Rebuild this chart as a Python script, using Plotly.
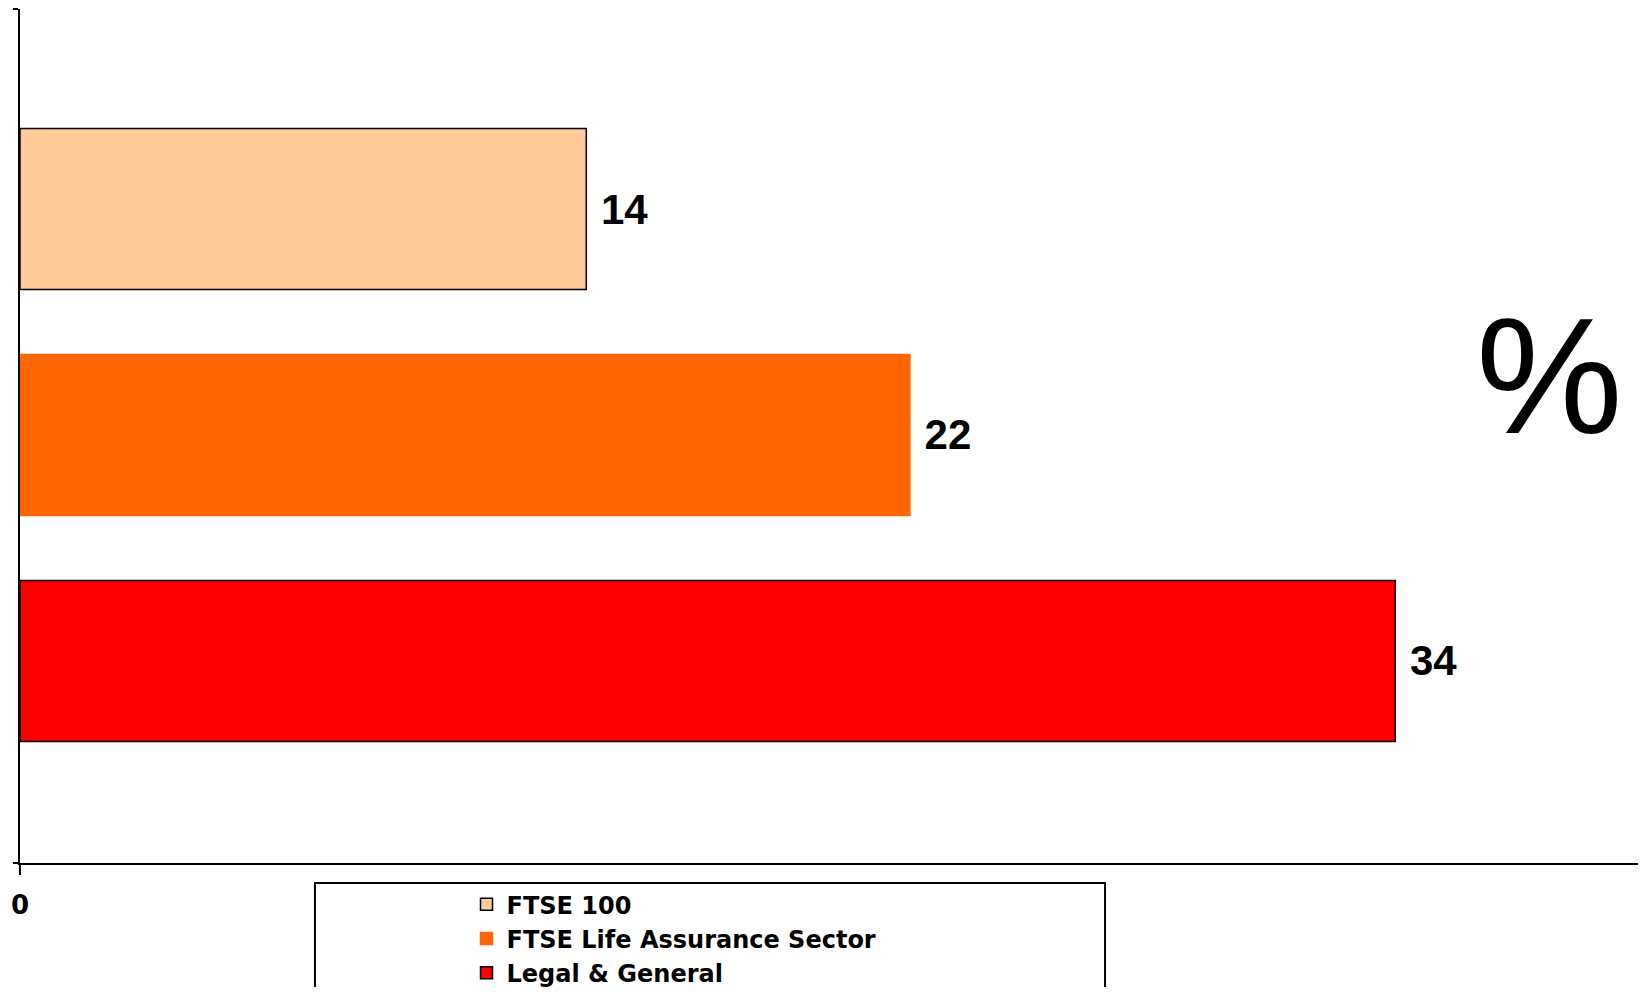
import plotly.graph_objects as go

# Series names, values and colours (top to bottom)
series = ["FTSE 100", "FTSE Life Assurance Sector", "Legal & General"]
values = [14, 22, 34]
colors = ["#FFCC99", "#FF6600", "#FF0000"]
outlines = ["black", "#FF6600", "black"]
positions = [0, 1, 2]

fig = go.Figure()
for name, val, col, edge, pos in zip(series, values, colors, outlines, positions):
    fig.add_trace(go.Bar(
        x=[val], y=[pos], name=name, orientation="h", width=0.712,
        marker=dict(color=col, line=dict(color=edge, width=1.5)),
        text=[val], texttemplate=" %{text}", textposition="outside",
        cliponaxis=False,
        textfont=dict(family="Liberation Sans", size=42, color="black", weight="bold"),
    ))

# the page body has an 8px margin, so the figure is kept a little smaller
fig.update_layout(
    width=1630, height=979,
    margin=dict(l=12, r=0, t=1, b=124, autoexpand=False),
    plot_bgcolor="white", paper_bgcolor="white",
    barmode="overlay",
    showlegend=True,
    legend=dict(
        xref="container", yref="container",
        x=0.2813, y=0.107, xanchor="left", yanchor="top",
        font=dict(family="DejaVu Sans", size=24, color="black", weight="bold"),
        bgcolor="rgba(0,0,0,0)", borderwidth=0, traceorder="normal",
        tracegroupgap=0,
    ),
    xaxis=dict(
        range=[0, 40], showgrid=False, zeroline=False, automargin=False,
        showline=True, linecolor="black", linewidth=2,
        tickvals=[0], ticktext=["0"], ticks="outside", ticklen=10,
        tickcolor="black", tickwidth=1.5, ticklabelstandoff=8,
        tickfont=dict(family="DejaVu Sans", size=26, color="black", weight="bold"),
    ),
    yaxis=dict(
        range=[2.894, -0.885], showgrid=False, zeroline=False, automargin=False,
        showline=True, linecolor="black", linewidth=1.5,
        tickvals=[-0.885, 2.894], showticklabels=False,
        ticks="outside", ticklen=5, tickcolor="black", tickwidth=1.5,
    ),
    shapes=[dict(
        type="rect", xref="paper", yref="paper",
        x0=0.1823, x1=0.6706, y0=-0.0234, y1=-0.17,
        line=dict(color="black", width=2), fillcolor="rgba(0,0,0,0)",
    )],
    annotations=[dict(
        text="%", xref="paper", yref="paper", x=0.9455, y=0.570,
        xanchor="center", yanchor="middle", showarrow=False,
        font=dict(family="Liberation Sans", size=165, color="black"),
    )],
)

fig.write_html("out.html")
